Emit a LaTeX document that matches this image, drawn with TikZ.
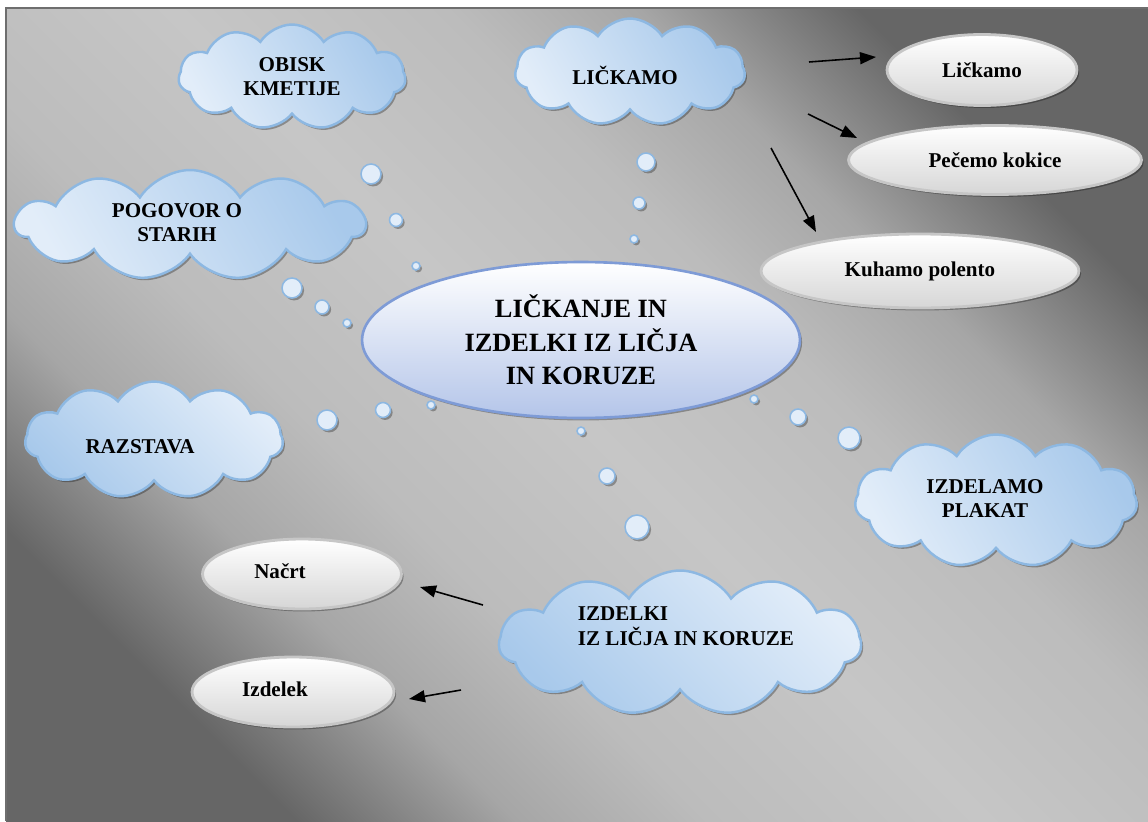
\documentclass[tikz,border=0pt]{standalone}
\usepackage{fontspec}
\setmainfont{Liberation Serif}
\usepackage{tikz}
\usetikzlibrary{shapes.geometric, shapes.symbols, arrows.meta, shadows}
\definecolor{bgdark}{RGB}{102,102,102}
\definecolor{bgmid}{RGB}{166,166,166}
\definecolor{bgsoft}{RGB}{188,188,188}
\definecolor{bglight}{RGB}{198,198,198}
\definecolor{framegray}{RGB}{110,110,110}
\definecolor{cloudlight}{RGB}{226,237,249}
\definecolor{clouddark}{RGB}{168,201,235}
\definecolor{cloudline}{RGB}{141,184,226}
\definecolor{mainline}{RGB}{126,155,214}
\definecolor{mainlow}{RGB}{180,197,233}
\definecolor{ovalline}{RGB}{198,198,198}
\definecolor{ovallow}{RGB}{214,214,214}
\pgfdeclareverticalshading{bgshade}{100bp}{color(0bp)=(bgdark); color(25bp)=(bgdark); color(33bp)=(bgmid); color(40bp)=(bgsoft); color(50bp)=(bglight); color(60bp)=(bgsoft); color(67bp)=(bgmid); color(75bp)=(bgdark); color(100bp)=(bgdark)}
% text set off the middle of its shape: [column] {right} {up} {text}
\newcommand{\nudge}[4][c]{\raisebox{#3}[\height][\depth]{\hbox to 0pt{\hss\kern#2\kern#2\begin{tabular}{@{}#1@{}}#4\end{tabular}\hss}}}

\begin{document}
\begin{tikzpicture}[x=0.02cm, y=-0.02cm, font=\bfseries,
  softshadow/.style={drop shadow={shadow xshift=1.2pt, shadow yshift=-1.4pt, opacity=0.3, fill=black}},
  cloudbox/.style={cloud, cloud puffs=11, cloud puff arc=115, cloud ignores aspect,
    draw=cloudline, line width=1.4pt, top color=clouddark, bottom color=cloudlight,
    shading angle=#1, softshadow, align=center, inner sep=0pt,
    font=\bfseries\fontsize{12}{13.6}\selectfont},
  cloudbox/.default=-60,
  oval/.style={ellipse, draw=ovalline, line width=1.6pt, top color=white,
    bottom color=ovallow, softshadow, inner sep=0pt,
    font=\bfseries\fontsize{12}{14}\selectfont},
  bubble/.style={circle, draw=cloudline, line width=0.9pt, fill=cloudlight,
    inner sep=0pt, outer sep=0pt, softshadow},
  pointer/.style={line width=0.9pt, -{Triangle[length=0.32cm, width=0.24cm]}}]

  % background card
  \useasboundingbox (0,0) rectangle (1148,821);
  \shade[shading=bgshade, shading angle=-45] (6,8) rectangle (1148,821);
  \draw[framegray, line width=1.3pt] (6,821) -- (6,8) -- (1148,8);

  % bubbles from the middle to each cloud
  \foreach \bx/\by/\br [count=\i] in {371/174/10, 396/220/6.5, 416/266/4,
      646/162/9, 639/203/6, 634/239/4,
      292/288/10, 322/307/7, 347/323/4,
      327/420/10, 383/410/7.5, 431/405/4,
      849/438/11, 798/417/8, 754/399/4,
      637/527/12, 607/476/8, 581/431/4}{
    \node[bubble, minimum size=\br*0.04cm] (bub\i) at (\bx,\by) {};
  }

  % central topic
  \node[ellipse, draw=mainline, line width=1.5pt, top color=white, bottom color=mainlow,
    softshadow, minimum width=8.76cm, minimum height=3.12cm, align=center,
    font=\bfseries\fontsize{15}{19}\selectfont] (topic) at (581,340)
    {LIČKANJE IN\\IZDELKI IZ LIČJA\\IN KORUZE};

  % clouds
  \node[cloudbox, minimum width=4.54cm, minimum height=2.1cm] (obisk) at (292,77) {OBISK\\KMETIJE};
  \node[cloudbox, minimum width=4.6cm, minimum height=2.14cm] (lickanje) at (630,72) {\nudge{-0.1cm}{-0.14cm}{LIČKAMO}};
  \node[cloudbox, minimum width=7.0cm, minimum height=2.2cm] (pogovor) at (190,225) {\nudge{-0.26cm}{0cm}{POGOVOR O\\STARIH}};
  \node[cloudbox=135, minimum width=5.16cm, minimum height=2.34cm] (razstava) at (154,440) {\nudge{-0.28cm}{-0.18cm}{RAZSTAVA}};
  \node[cloudbox, minimum width=5.64cm, minimum height=2.66cm] (plakat) at (996,501) {\nudge{-0.22cm}{0cm}{IZDELAMO\\PLAKAT}};
  \node[cloudbox=135, minimum width=7.24cm, minimum height=2.9cm] (izdelki) at (680,643) {\nudge[l]{0.12cm}{0.3cm}{IZDELKI\\IZ LIČJA IN KORUZE}};

  % activities
  \node[oval, minimum width=3.8cm, minimum height=1.42cm] (lickamo) at (982,70) {Ličkamo};
  \node[oval, minimum width=5.86cm, minimum height=1.38cm] (kokice) at (995,160) {Pečemo kokice};
  \node[oval, minimum width=6.36cm, minimum height=1.48cm] (polenta) at (920,271) {Kuhamo polento};
  \node[oval, minimum width=3.98cm, minimum height=1.4cm] (nacrt) at (302,574) {\nudge{-0.44cm}{0cm}{Načrt}};
  \node[oval, minimum width=4.04cm, minimum height=1.4cm] (izdelek) at (293,692) {\nudge{-0.36cm}{0cm}{Izdelek}};

  % arrows
  \coordinate (s1) at (809,62);  \coordinate (e1) at (876,57);
  \coordinate (s2) at (808,114); \coordinate (e2) at (857,138);
  \coordinate (s3) at (771,148); \coordinate (e3) at (816,232);
  \coordinate (s4) at (483,605); \coordinate (e4) at (420,587);
  \coordinate (s5) at (461,690); \coordinate (e5) at (409,699);
  \foreach \k in {1,...,5}
    \draw[pointer] (s\k) -- (e\k);

\end{tikzpicture}
\end{document}
